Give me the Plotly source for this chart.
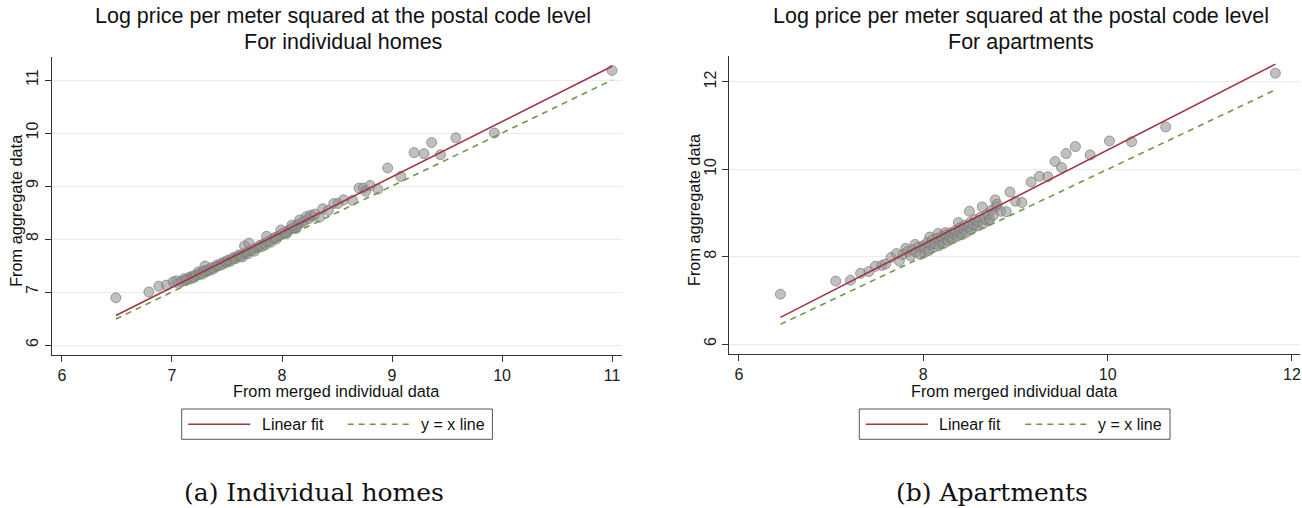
import numpy as np
import plotly.graph_objects as go

W, H = 1302, 508

# ---- Individual homes: (merged individual data, aggregate data) ----
homes_x = [6.49, 6.79, 6.88, 6.95, 7.01, 7.04, 7.11, 7.16, 7.24, 7.30,
           7.06, 7.09, 7.12, 7.14, 7.17, 7.19, 7.20, 7.22, 7.25, 7.26,
           7.28, 7.29, 7.31, 7.33, 7.35, 7.36, 7.38, 7.40, 7.41, 7.43,
           7.45, 7.46, 7.48, 7.50, 7.51, 7.53, 7.55, 7.56, 7.58, 7.60,
           7.61, 7.63, 7.64, 7.66, 7.68, 7.69, 7.71, 7.73, 7.75, 7.77,
           7.79, 7.80, 7.82, 7.84, 7.85, 7.87, 7.89, 7.90, 7.92, 7.94,
           7.95, 7.97, 7.99, 8.01, 8.03, 8.04, 8.06, 8.08, 8.10, 8.12,
           8.13, 8.15, 8.18, 8.20, 8.24, 8.28,
           7.66, 7.70, 7.86, 7.99, 8.09, 8.16, 8.22, 8.26, 8.30, 8.34,
           8.37, 8.42, 8.47, 8.51, 8.56, 8.64, 8.70, 8.74, 8.76, 8.80,
           8.87, 8.96, 9.08, 9.20, 9.29, 9.36, 9.44, 9.58, 9.93, 11.00]
homes_y = [6.89, 7.00, 7.11, 7.13, 7.19, 7.21, 7.25, 7.28, 7.38, 7.49,
           7.16, 7.20, 7.22, 7.24, 7.25, 7.30, 7.27, 7.32, 7.33, 7.36,
           7.34, 7.40, 7.38, 7.42, 7.41, 7.46, 7.44, 7.48, 7.51, 7.50,
           7.54, 7.52, 7.57, 7.56, 7.60, 7.58, 7.62, 7.65, 7.63, 7.67,
           7.70, 7.68, 7.66, 7.73, 7.75, 7.72, 7.78, 7.80, 7.77, 7.83,
           7.85, 7.88, 7.86, 7.92, 7.89, 7.95, 7.97, 7.94, 8.01, 8.03,
           8.00, 8.06, 8.08, 8.11, 8.13, 8.10, 8.16, 8.19, 8.21, 8.24,
           8.20, 8.28, 8.31, 8.34, 8.38, 8.43,
           7.87, 7.92, 8.05, 8.17, 8.26, 8.36, 8.42, 8.45, 8.47, 8.41,
           8.57, 8.54, 8.67, 8.67, 8.74, 8.73, 8.96, 8.96, 8.90, 9.01,
           8.94, 9.34, 9.18, 9.63, 9.61, 9.82, 9.59, 9.91, 10.00, 11.18]
homes_fit = (-0.214, 1.043)   # intercept, slope

# ---- Apartments ----
apt_x = [6.45, 7.05, 7.21, 7.32, 7.41, 7.48, 7.55, 7.59, 7.65, 7.74,
         7.71, 7.81, 7.91, 8.01, 8.07, 8.16, 8.24, 8.38, 8.50, 8.55,
         8.64, 8.70, 8.78, 8.79, 8.84, 8.90, 8.94, 9.00, 9.07, 9.17,
         9.26, 9.35, 9.43, 9.50, 9.55, 9.65, 9.81, 10.02, 10.26, 10.63,
         11.82,
         7.78, 7.83, 7.86, 7.88, 7.92, 7.95, 7.97, 8.00, 8.02, 8.04,
         8.06, 8.08, 8.10, 8.12, 8.13, 8.15, 8.17, 8.19, 8.20, 8.22,
         8.24, 8.25, 8.27, 8.29, 8.30, 8.32, 8.34, 8.35, 8.37, 8.39,
         8.40, 8.42, 8.44, 8.45, 8.47, 8.49, 8.51, 8.52, 8.54, 8.56,
         8.58, 8.60, 8.62, 8.65, 8.67, 8.70, 8.72, 8.74, 8.76, 8.80]
apt_y = [7.14, 7.44, 7.46, 7.62, 7.66, 7.78, 7.80, 7.83, 7.98, 7.90,
         8.07, 8.19, 8.28, 8.09, 8.45, 8.53, 8.55, 8.78, 9.04, 8.70,
         9.14, 8.82, 9.30, 9.14, 9.04, 9.03, 9.48, 9.27, 9.24, 9.71,
         9.84, 9.83, 10.18, 10.04, 10.36, 10.52, 10.33, 10.65, 10.63, 10.97,
         12.20,
         8.05, 8.12, 8.02, 8.16, 8.10, 8.22, 8.05, 8.25, 8.18, 8.32,
         8.14, 8.28, 8.38, 8.22, 8.30, 8.42, 8.25, 8.35, 8.46, 8.30,
         8.40, 8.50, 8.36, 8.45, 8.55, 8.41, 8.52, 8.60, 8.47, 8.56,
         8.66, 8.50, 8.62, 8.72, 8.56, 8.68, 8.78, 8.62, 8.74, 8.85,
         8.70, 8.80, 8.90, 8.76, 8.86, 8.98, 8.85, 9.06, 8.95, 9.20]
apt_fit = (-0.356, 1.08)

panels = [
    dict(x=homes_x, y=homes_y, fit=homes_fit, xa="x", ya="y",
         xdom=(51.5, 622), ydom=(57, 354.7),
         xrange=(5.905, 11.09), yrange=(5.817, 11.434),
         xticks=[6, 7, 8, 9, 10, 11], yticks=[6, 7, 8, 9, 10, 11],
         title=["Log price per meter squared at the postal code level",
                "For individual homes"],
         caption="(a) Individual homes", legend_x=181.7, ytitle_x=16),
    dict(x=apt_x, y=apt_y, fit=apt_fit, xa="x2", ya="y2",
         xdom=(729, 1300), ydom=(56, 354),
         xrange=(5.892, 12.087), yrange=(5.771, 12.595),
         xticks=[6, 8, 10, 12], yticks=[6, 8, 10, 12],
         title=["Log price per meter squared at the postal code level",
                "For apartments"],
         caption="(b) Apartments", legend_x=859.3, ytitle_x=694),
]

FIT_COLOR = "#a23440"
DIAG_COLOR = "#6d9a45"
SANS = "Liberation Sans, Arial, sans-serif"
SERIF = "DejaVu Serif, Liberation Serif, serif"

fig = go.Figure()
annotations = []
shapes = []
layout_axes = {}


def label(text, x, y, size, xanchor="center", angle=0, family=SANS):
    annotations.append(dict(
        text=text, x=x / W, y=1 - y / H, xref="paper", yref="paper",
        xanchor=xanchor, yanchor="middle", showarrow=False, textangle=angle,
        font=dict(family=family, size=size, color="#111")))


for i, p in enumerate(panels):
    xs = np.array(p["x"])
    line_x = np.array([xs.min(), xs.max()])
    b0, b1 = p["fit"]

    fig.add_trace(go.Scatter(
        x=p["x"], y=p["y"], mode="markers", xaxis=p["xa"], yaxis=p["ya"],
        marker=dict(size=10, color="rgba(150,150,150,0.6)",
                    line=dict(color="rgba(115,115,115,0.65)", width=1)),
        showlegend=False, hoverinfo="skip"))
    fig.add_trace(go.Scatter(
        x=line_x, y=b0 + b1 * line_x, mode="lines", xaxis=p["xa"], yaxis=p["ya"],
        line=dict(color=FIT_COLOR, width=1.6), showlegend=False))
    fig.add_trace(go.Scatter(
        x=line_x, y=line_x, mode="lines", xaxis=p["xa"], yaxis=p["ya"],
        line=dict(color=DIAG_COLOR, width=1.6, dash="6px,5px"), showlegend=False))

    xd = [p["xdom"][0] / W, p["xdom"][1] / W]
    yd = [1 - p["ydom"][1] / H, 1 - p["ydom"][0] / H]
    sfx = "" if i == 0 else "2"
    layout_axes["xaxis" + sfx] = dict(
        domain=xd, range=list(p["xrange"]), anchor="y" + sfx,
        tickvals=p["xticks"], ticks="outside", ticklen=6, tickcolor="#333",
        showgrid=False, zeroline=False, showline=True, linecolor="#333", linewidth=1,
        tickfont=dict(family=SANS, size=16, color="#222"))
    layout_axes["yaxis" + sfx] = dict(
        domain=yd, range=list(p["yrange"]), anchor="x" + sfx,
        tickvals=p["yticks"], ticks="outside", ticklen=6, tickcolor="#333",
        tickangle=-90,
        showgrid=True, gridcolor="#ebebeb", gridwidth=1,
        zeroline=False, showline=True, linecolor="#333", linewidth=1,
        tickfont=dict(family=SANS, size=16, color="#222"))

    cx = (p["xdom"][0] + p["xdom"][1]) / 2
    label(p["title"][0], cx + 6, 16, 21.5)
    label(p["title"][1], cx + 6, 42, 21.5)
    label("From merged individual data", cx, 391, 16.3)
    label("From aggregate data", p["ytitle_x"], (p["ydom"][0] + p["ydom"][1]) / 2 + 5,
          16.3, angle=-90)
    label(p["caption"], cx - 23, 492, 25, family=SERIF)

    # key box below each panel
    lx = p["legend_x"]
    box_top, box_bot, mid = 409, 439.3, 424.2
    shapes.append(dict(type="rect", xref="paper", yref="paper",
                       x0=lx / W, x1=(lx + 310.7) / W, y0=1 - box_bot / H, y1=1 - box_top / H,
                       line=dict(color="#555", width=1), fillcolor="white"))
    shapes.append(dict(type="line", xref="paper", yref="paper",
                       x0=(lx + 6.5) / W, x1=(lx + 68.5) / W, y0=1 - mid / H, y1=1 - mid / H,
                       line=dict(color=FIT_COLOR, width=1.6)))
    shapes.append(dict(type="line", xref="paper", yref="paper",
                       x0=(lx + 166) / W, x1=(lx + 227) / W, y0=1 - mid / H, y1=1 - mid / H,
                       line=dict(color=DIAG_COLOR, width=1.6, dash="6px,5px")))
    label("Linear fit", lx + 78, mid, 16, xanchor="left")
    label("y = x line", lx + 237, mid, 16, xanchor="left")

fig.update_layout(
    width=W, height=H, margin=dict(l=0, r=0, t=0, b=0),
    paper_bgcolor="white", plot_bgcolor="white",
    showlegend=False, annotations=annotations, shapes=shapes,
    **layout_axes)

fig.write_html("out.html")
